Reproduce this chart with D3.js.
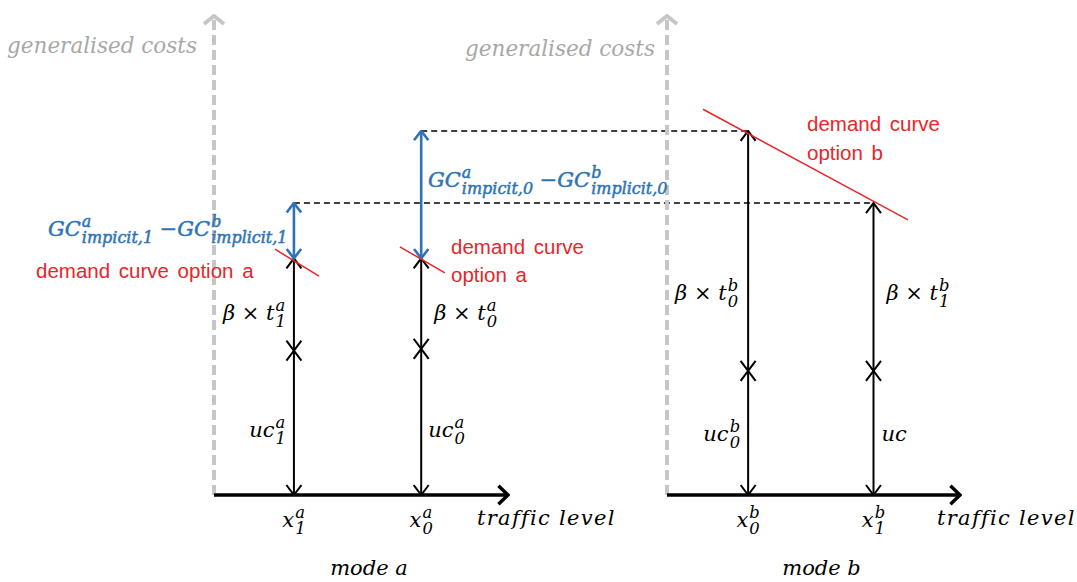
<!DOCTYPE html>
<html><head><meta charset="utf-8">
<script src="https://cdn.jsdelivr.net/npm/d3@7"></script>
<style>
html,body{margin:0;padding:0;background:#fff;}
svg{display:block;}
</style></head>
<body>
<svg id="chart" width="1077" height="582"></svg>
<script>
// ---------- data (conceptual units) ----------
const modes = ["mode a", "mode b"];
const axisTitleY = "generalised costs";
const axisTitleX = "traffic level";
// traffic levels (x) for each mode
const trafficA = [2.7, 7.0];          // x1^a, x0^a
const trafficB = [2.75, 7.0];         // x0^b, x1^b
const trafficLabelsA = [["x","a","1"], ["x","a","0"]];
const trafficLabelsB = [["x","b","0"], ["x","b","1"]];
// user cost component (lower arrow)
const userCostA = [30, 30.4];
const userCostB = [25.8, 25.8];
// generalised cost (top of travel-time arrow, on demand curve)
const genCostA = [49.2, 49.2];
const genCostB = [75.7, 60.7];
// implicit cost level to which mode a is raised (blue arrow top)
const implicitTopA = [60.7, 75.7];
// demand curve segments [x, cost]
const demandA1 = [[2.06, 51.1], [3.55, 45.5]];
const demandA0 = [[6.28, 51.6], [7.8, 46.2]];
const demandB = [[1.22, 80.2], [8.17, 57.2]];
const domainX = [0, 10];
const domainY = [0, 100];

// ---------- scales ----------
const y = d3.scaleLinear().domain(domainY).range([495, 14]);
const xA = d3.scaleLinear().domain(domainX).range([214, 510]);
const xB = d3.scaleLinear().domain(domainX).range([667, 962]);

const svg = d3.select("#chart");
const SERIF = "'DejaVu Serif', 'Liberation Serif', serif";
const SANS = "'Liberation Sans', 'Noto Sans', sans-serif";
const RED = "#e8262a", BLUE = "#2e74b5", GREY = "#c6c6c6";

// markers
const defs = svg.append("defs");
function marker(id, color, w, h, sw) {
  defs.append("marker").attr("id", id)
    .attr("viewBox", `0 0 ${w} ${h}`).attr("refX", w - sw / 2).attr("refY", h / 2)
    .attr("markerWidth", w).attr("markerHeight", h).attr("markerUnits", "userSpaceOnUse")
    .attr("orient", "auto-start-reverse")
    .append("path").attr("d", `M${sw/2},${sw/2} L${w - sw/2},${h/2} L${sw/2},${h - sw/2}`)
    .attr("fill", "none").attr("stroke", color).attr("stroke-width", sw)
    .attr("stroke-linejoin", "miter");
}
marker("arrBlack", "#000", 12, 17, 2);
marker("arrBlue", BLUE, 12, 17, 2.6);
marker("arrAxis", "#000", 13, 22, 3.4);
marker("arrGrey", GREY, 12, 24, 4);

// math label helper: pieces [{t, sup, sub}]
function mathLabel(x, yy, pieces, opts) {
  const size = opts.size, color = opts.color, anchor = opts.anchor || "start";
  const r = opts.ratio || 0.78;
  const g = svg.append("g");
  const style = sel => sel.attr("font-family", SERIF).attr("font-style", "italic")
    .attr("fill", color).attr("stroke", opts.stroke ? color : "none")
    .attr("stroke-width", opts.stroke || 0).style("white-space", "pre");
  let cx = 0;
  pieces.forEach(p => {
    if (p.t) {
      const t = g.append("text").attr("x", cx).attr("y", 0).text(p.t)
        .attr("font-size", size).call(style);
      cx += t.node().getComputedTextLength();
    }
    let w = 0;
    if (p.sup) {
      const s = g.append("text").attr("x", cx + 1).attr("y", -size * 0.45).text(p.sup)
        .attr("font-size", size * r).call(style);
      w = Math.max(w, s.node().getComputedTextLength() + 1);
    }
    if (p.sub) {
      const s = g.append("text").attr("x", cx + 1).attr("y", size * 0.33).text(p.sub)
        .attr("font-size", size * r).call(style);
      w = Math.max(w, s.node().getComputedTextLength() + 1);
    }
    cx += w;
  });
  let ox = x;
  if (anchor === "end") ox = x - cx;
  else if (anchor === "middle") ox = x - cx / 2;
  g.attr("transform", `translate(${ox},${yy})`);
  return g;
}

function panel(xs, traffic, tLabels, uc, gc, mode, titleX, titleGap, titleY) {
  const [x0, x1] = xs.range();
  // y axis (grey dashed)
  svg.append("line").attr("x1", x0).attr("x2", x0).attr("y1", y(0)).attr("y2", y(domainY[1]) + 2)
    .attr("stroke", GREY).attr("stroke-width", 4).attr("stroke-dasharray", "10,5")
    .attr("marker-end", "url(#arrGrey)");
  svg.append("text").attr("x", x0 - titleGap).attr("y", titleY).attr("text-anchor", "end")
    .attr("font-family", SERIF).attr("font-style", "italic").attr("font-size", 21.5)
    .attr("fill", "#a8a8a8").text(axisTitleY);
  // x axis
  svg.append("line").attr("x1", x0).attr("x2", x1 - 2).attr("y1", y(0)).attr("y2", y(0))
    .attr("stroke", "#000").attr("stroke-width", 3.4).attr("marker-end", "url(#arrAxis)");
  svg.append("text").attr("x", titleX).attr("y", 525)
    .attr("font-family", SERIF).attr("font-style", "italic").attr("font-size", 21)
    .attr("letter-spacing", 1.3).attr("fill", "#000").text(axisTitleX);
  svg.append("text").attr("x", (x0 + x1) / 2 + 7).attr("y", 575).attr("text-anchor", "middle")
    .attr("font-family", SERIF).attr("font-style", "italic").attr("font-size", 21)
    .attr("fill", "#000").text(mode);
  traffic.forEach((t, i) => {
    const px = xs(t);
    // lower arrow: user cost
    svg.append("line").attr("x1", px).attr("x2", px).attr("y1", y(0)).attr("y2", y(uc[i]))
      .attr("stroke", "#000").attr("stroke-width", 2)
      .attr("marker-start", "url(#arrBlack)").attr("marker-end", "url(#arrBlack)");
    // upper arrow: travel time cost
    svg.append("line").attr("x1", px).attr("x2", px).attr("y1", y(uc[i])).attr("y2", y(gc[i]))
      .attr("stroke", "#000").attr("stroke-width", 2)
      .attr("marker-start", "url(#arrBlack)").attr("marker-end", "url(#arrBlack)");
    const L = tLabels[i];
    mathLabel(px, 527, [{t: L[0], sup: L[1], sub: L[2]}], {size: 21, color: "#000", anchor: "middle"});
  });
}

// dashed reference lines
svg.append("line").attr("x1", xA(trafficA[1])).attr("x2", xB(trafficB[0]))
  .attr("y1", y(genCostB[0])).attr("y2", y(genCostB[0]))
  .attr("stroke", "#000").attr("stroke-width", 1.5).attr("stroke-dasharray", "6,4");
svg.append("line").attr("x1", xA(trafficA[0])).attr("x2", xB(trafficB[1]))
  .attr("y1", y(genCostB[1])).attr("y2", y(genCostB[1]))
  .attr("stroke", "#000").attr("stroke-width", 1.5).attr("stroke-dasharray", "6,4");

panel(xA, trafficA, trafficLabelsA, userCostA, genCostA, modes[0], 477, 17, 53);
panel(xB, trafficB, trafficLabelsB, userCostB, genCostB, modes[1], 937, 12, 56);

// blue arrows (implicit cost differences)
trafficA.forEach((t, i) => {
  svg.append("line").attr("x1", xA(t)).attr("x2", xA(t)).attr("y1", y(genCostA[i])).attr("y2", y(implicitTopA[i]))
    .attr("stroke", BLUE).attr("stroke-width", 2.6)
    .attr("marker-start", "url(#arrBlue)").attr("marker-end", "url(#arrBlue)");
});

// demand curves
const line = xs => d3.line().x(d => xs(d[0])).y(d => y(d[1]));
[demandA1, demandA0].forEach(d => svg.append("path").attr("d", line(xA)(d))
  .attr("stroke", RED).attr("stroke-width", 1.5).attr("fill", "none"));
svg.append("path").attr("d", line(xB)(demandB)).attr("stroke", RED).attr("stroke-width", 1.5).attr("fill", "none");

// red labels
function redText(x, yy, s) {
  svg.append("text").attr("x", x).attr("y", yy).attr("font-family", SANS)
    .attr("font-size", 20.5).attr("word-spacing", 3).attr("fill", RED).text(s);
}
redText(36, 278, "demand curve option a");
redText(451, 254, "demand curve");
redText(451, 282, "option a");
redText(807, 131, "demand curve");
redText(807, 160, "option b");

// blue labels
const B = {size: 21, color: BLUE, stroke: 0.5, ratio: 0.76};
mathLabel(48, 236, [{t: "GC", sup: "a", sub: "impicit,1"}, {t: " \u2212GC", sup: "b", sub: "implicit,1"}], B);
mathLabel(428, 187, [{t: "GC", sup: "a", sub: "impicit,0"}, {t: " \u2212GC", sup: "b", sub: "implicit,0"}], B);

// black cost labels
const S = {size: 21, color: "#000"};
mathLabel(xA(trafficA[0]) - 8, 320, [{t: "\u03B2 \u00D7 t", sup: "a", sub: "1"}], {...S, anchor: "end"});
mathLabel(xA(trafficA[1]) + 13, 320, [{t: "\u03B2 \u00D7 t", sup: "a", sub: "0"}], S);
mathLabel(xA(trafficA[0]) - 8, 437, [{t: "uc", sup: "a", sub: "1"}], {...S, anchor: "end"});
mathLabel(xA(trafficA[1]) + 7, 437, [{t: "uc", sup: "a", sub: "0"}], S);
mathLabel(xB(trafficB[0]) - 10, 300, [{t: "\u03B2 \u00D7 t", sup: "b", sub: "0"}], {...S, anchor: "end"});
mathLabel(xB(trafficB[1]) + 13, 300, [{t: "\u03B2 \u00D7 t", sup: "b", sub: "1"}], S);
mathLabel(xB(trafficB[0]) - 8, 441, [{t: "uc", sup: "b", sub: "0"}], {...S, anchor: "end"});
mathLabel(xB(trafficB[1]) + 8, 441, [{t: "uc"}], S);
</script>
</body></html>
